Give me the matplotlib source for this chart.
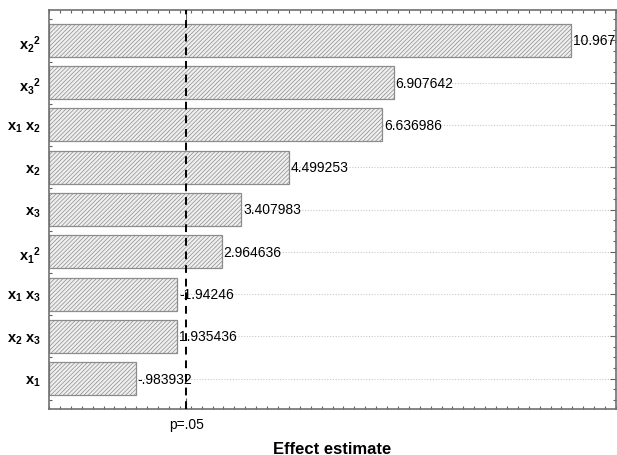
import numpy as np
import matplotlib
matplotlib.use("Agg")
import matplotlib.pyplot as plt
from matplotlib.ticker import MultipleLocator

plt.rcParams['font.family'] = ['Liberation Sans', 'DejaVu Sans']
plt.rcParams['mathtext.fontset'] = 'custom'
plt.rcParams['mathtext.bf'] = 'Liberation Sans:bold'
plt.rcParams['mathtext.rm'] = 'Liberation Sans:bold'
plt.rcParams['mathtext.it'] = 'Liberation Sans:bold'
plt.rcParams['hatch.linewidth'] = 0.5
plt.rcParams['hatch.color'] = '#8a8a8a'

# pareto chart data, top to bottom
terms = ['x$_2$$^2$', 'x$_3$$^2$', 'x$_1$ x$_2$', 'x$_2$', 'x$_3$', 'x$_1$$^2$',
         'x$_1$ x$_3$', 'x$_2$ x$_3$', 'x$_1$']
effects = [10.96745, 6.907642, 6.636986, 4.499253, 3.407983, 2.964636,
           -1.94246, 1.935436, -0.983932]
p_crit = 2.144787
x_min, x_max = -1, 12

def fmt(v):
    s = f"{v:.7g}"
    if s.startswith("-0."):
        return "-" + s[2:]
    if s.startswith("0."):
        return s[1:]
    return s

fig = plt.figure(figsize=(6.17, 4.56), dpi=100)
ax = fig.add_axes([49/617, 46/456, 567/617, 399/456])

pos = np.arange(len(terms))
mag = np.abs(effects)

# dotted row guides behind the bars
for p in pos:
    ax.axhline(p, color='#c8c8c8', lw=0.8, ls=(0, (1, 1.5)), zorder=0)

ax.barh(pos, mag - x_min, left=x_min, height=0.78, color='#efefef',
        edgecolor='#8c8c8c', hatch='////////', linewidth=0.9, zorder=2)

for p, v, m in zip(pos, effects, mag):
    ax.text(m + 0.04, p, fmt(v), va='center', ha='left', fontsize=10,
            clip_on=True, zorder=4)

ax.axvline(p_crit, color='black', lw=1.4, ls=(0, (4, 3)), zorder=3)

ax.set_xlim(x_min, x_max)
ax.set_ylim(len(terms) - 0.28, -0.72)

ax.set_yticks(pos)
ax.set_yticklabels(terms, fontsize=10.5, fontweight='bold')
ax.yaxis.set_minor_locator(MultipleLocator(0.25))
ax.set_xticks([p_crit])
ax.set_xticklabels(['p=.05'], fontsize=10)
ax.xaxis.set_minor_locator(MultipleLocator(0.25))

ax.tick_params(axis='both', which='both', direction='in', top=True, right=True,
               color='#606060', width=0.8)
ax.tick_params(axis='x', which='major', length=8, pad=6)
ax.tick_params(axis='y', which='major', length=4, pad=6)
ax.tick_params(which='minor', length=2.5)

for s in ax.spines.values():
    s.set_color('#707070')
    s.set_linewidth(1.2)

ax.set_xlabel('Effect estimate', fontsize=12, fontweight='bold', labelpad=7)

fig.savefig('out.png', dpi=100)
